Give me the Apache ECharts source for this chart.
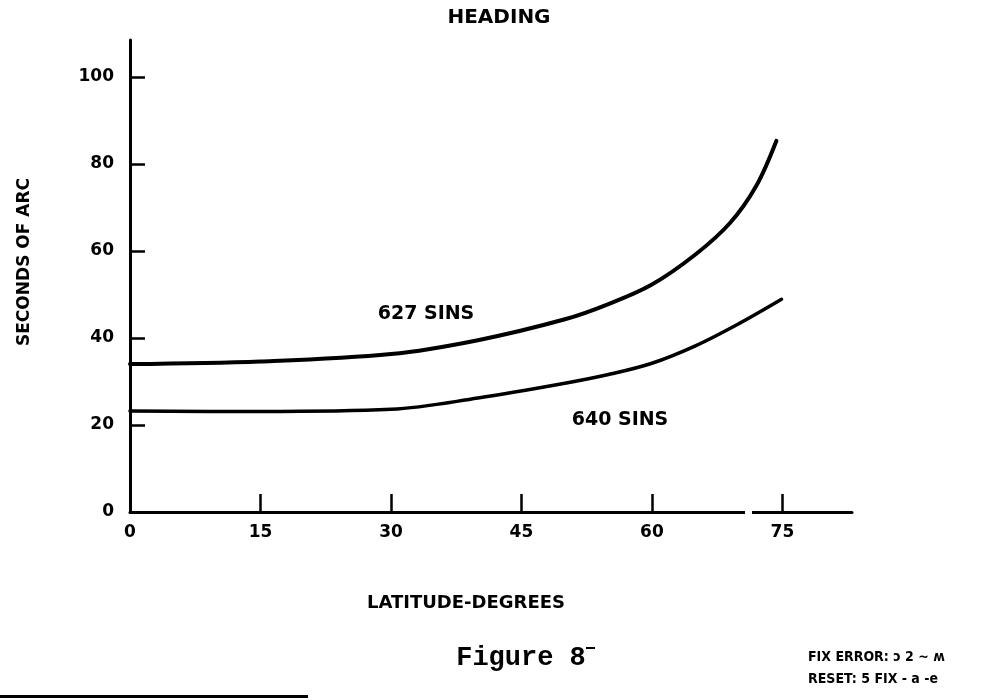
<!DOCTYPE html>
<html>
<head>
<meta charset="utf-8">
<script src="https://cdn.jsdelivr.net/npm/echarts@6/dist/echarts.min.js"></script>
<style>html,body{margin:0;padding:0;background:#fff}#c{width:987px;height:700px}</style>
</head>
<body>
<div id="c"></div>
<script>
// Data
const lat627 = [0, 15, 30, 40, 50, 55, 60, 65, 69, 72, 74.3];
const sec627 = [34.0, 34.6, 36.3, 39.5, 44.3, 47.8, 52.3, 59.2, 66.5, 75.0, 85.3];
const lat640 = [0, 15, 30, 40, 50, 55, 60, 65, 70, 74.9];
const sec640 = [23.2, 23.1, 23.6, 26.2, 29.6, 31.6, 34.2, 38.2, 43.3, 48.9];
const xTicks = [0, 15, 30, 45, 60, 75];
const yTicks = [0, 20, 40, 60, 80, 100];
const seriesNames = ['627 SINS', '640 SINS'];

const FONT = 'DejaVu Sans';
const chart = echarts.init(document.getElementById('c'));
const zip = (a, b) => a.map((v, i) => [v, b[i]]);

chart.setOption({
  animation: false,
  backgroundColor: '#fff',
  grid: { left: 130, right: 135, top: 40, bottom: 188 },
  xAxis: {
    type: 'value', min: 0, max: 83,
    splitLine: { show: false },
    axisLine: { lineStyle: { color: '#000', width: 3 } },
    axisTick: { inside: true, length: 18, lineStyle: { color: '#000', width: 2.5 }, customValues: xTicks.slice(1) },
    axisLabel: { customValues: xTicks, color: '#000', fontFamily: FONT, fontWeight: 'bold', fontSize: 17, margin: 12 }
  },
  yAxis: {
    type: 'value', min: 0, max: 108.5,
    splitLine: { show: false },
    axisLine: { lineStyle: { color: '#000', width: 3 } },
    axisTick: { inside: true, length: 15, lineStyle: { color: '#000', width: 2.5 }, customValues: yTicks.slice(1) },
    axisLabel: { customValues: yTicks, color: '#000', fontFamily: FONT, fontWeight: 'bold', fontSize: 17, margin: 16 }
  },
  series: [
    { name: seriesNames[0], type: 'line', data: zip(lat627, sec627), smooth: 0.35, showSymbol: false,
      lineStyle: { color: '#000', width: 4, cap: 'round' } },
    { name: seriesNames[1], type: 'line', data: zip(lat640, sec640), smooth: 0.35, showSymbol: false,
      lineStyle: { color: '#000', width: 3.5, cap: 'round' } }
  ],
  graphic: [
    { type: 'rect', shape: { x: 745, y: 503, width: 7, height: 16 }, style: { fill: '#fff' }, z: 100 },
    { type: 'text', x: 499, y: 18, style: { text: 'HEADING', font: 'bold 20px ' + FONT, fill: '#000', align: 'center', verticalAlign: 'middle' } },
    { type: 'text', x: 25, y: 262, rotation: Math.PI / 2, style: { text: 'SECONDS OF ARC', font: 'bold 17px ' + FONT, fill: '#000', align: 'center', verticalAlign: 'middle' } },
    { type: 'text', x: 466, y: 603, style: { text: 'LATITUDE-DEGREES', font: 'bold 18px ' + FONT, fill: '#000', align: 'center', verticalAlign: 'middle' } },
    { type: 'text', x: 426, y: 314, style: { text: seriesNames[0], font: 'bold 19px ' + FONT, fill: '#000', align: 'center', verticalAlign: 'middle' } },
    { type: 'text', x: 620, y: 420, style: { text: seriesNames[1], font: 'bold 19px ' + FONT, fill: '#000', align: 'center', verticalAlign: 'middle' } },
    { type: 'text', x: 521, y: 658, style: { text: 'Figure 8', font: 'bold 27px "Liberation Mono"', fill: '#000', align: 'center', verticalAlign: 'middle' } },
    { type: 'rect', shape: { x: 586, y: 647, width: 9, height: 2 }, style: { fill: '#000' } },
    { type: 'text', x: 808, y: 657, style: { text: 'FIX ERROR: \u0254 2 ~ \u028d', font: 'bold 14px "DejaVu Sans Condensed"', fill: '#000', align: 'left', verticalAlign: 'middle' } },
    { type: 'text', x: 808, y: 679, style: { text: 'RESET: 5 FIX - a -e', font: 'bold 14px "DejaVu Sans Condensed"', fill: '#000', align: 'left', verticalAlign: 'middle' } },
    { type: 'rect', shape: { x: 0, y: 695, width: 308, height: 3 }, style: { fill: '#000' } }
  ]
});
</script>
</body>
</html>
